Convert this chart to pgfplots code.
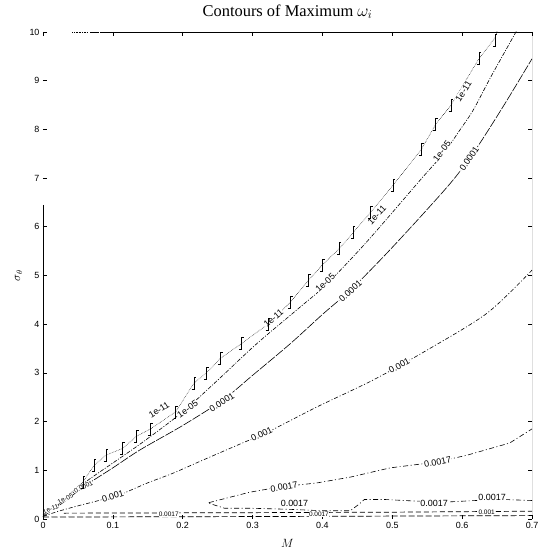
\documentclass[border=0pt]{standalone}
\usepackage{fontspec}
\setmainfont{Liberation Sans}
\newfontfamily\ttlfont{Liberation Serif}
\usepackage{pgfplots}
\pgfplotsset{compat=1.18}
\pgfdeclareplotmark{hook}{%
  \pgfpathmoveto{\pgfqpoint{-2.2bp}{-6bp}}%
  \pgfpathlineto{\pgfqpoint{0bp}{-6bp}}%
  \pgfpathlineto{\pgfqpoint{0bp}{6bp}}%
  \pgfpathlineto{\pgfqpoint{2.2bp}{6bp}}%
  \pgfusepathqstroke}
\newcommand\clab{\fontsize{9}{10}\selectfont}
\tikzset{clabel/.style={font=\clab, fill=white, inner sep=0.4pt},
         slabel/.style={font=\fontsize{6.5}{7}\selectfont, fill=white, inner sep=0.2pt}}
\begin{document}
\begin{tikzpicture}[x=1bp,y=1bp]
\useasboundingbox (-43,-34) rectangle (495,519);
\begin{axis}[
  at={(0,0)}, anchor=south west, scale only axis, width=489bp, height=487bp,
  xmin=0, xmax=0.7, ymin=0, ymax=10,
  xtick={0,0.1,0.2,0.3,0.4,0.5,0.6,0.7}, ytick={0,1,...,10},
  tick align=inside, major tick length=4bp,
  tick style={black, line width=0.6bp},
  axis line style={draw=none},
  ticklabel style={font=\fontsize{9}{10}\selectfont},
  /pgf/number format/assume math mode=true,
  title={\ttlfont\fontsize{16.5}{18}\selectfont Contours of Maximum $\omega_i$},
  title style={at={(axis description cs:0.5,1.029)}, anchor=center},
  xlabel={$M$},
  xlabel style={at={(axis description cs:0.5,-0.051)}, anchor=center, font=\fontsize{12}{13}\selectfont},
  ylabel={$\sigma_\theta$},
  ylabel style={at={(axis description cs:-0.05,0.5)}, anchor=center, font=\fontsize{12}{13}\selectfont},
  every axis plot/.append style={black, line width=0.6bp},
]
% 1e-11 (jagged)
\addplot[densely dotted, line width=0.45bp] coordinates {
 (0,0.08) (0.03,0.4) (0.057,0.76) (0.073,1.1) (0.09,1.31) (0.114,1.45) (0.134,1.7)
 (0.154,1.85) (0.19,2.2) (0.216,2.79) (0.234,3.0) (0.254,3.3) (0.284,3.6) (0.322,4.0)
 (0.354,4.45) (0.38,4.9) (0.4,5.22) (0.424,5.55) (0.444,5.88) (0.469,6.3) (0.501,6.85)
 (0.542,7.6) (0.562,8.1) (0.584,8.5) (0.624,9.45) (0.647,9.88) (0.652,10.1)};
\addplot[only marks, mark=hook, mark options={line width=0.55bp}] coordinates {
 (0.057,0.76) (0.073,1.1) (0.09,1.31) (0.114,1.45) (0.134,1.7)
 (0.154,1.85) (0.19,2.2) (0.216,2.79) (0.234,3.0) (0.254,3.3) (0.284,3.6) (0.322,4.0)
 (0.354,4.45) (0.38,4.9) (0.4,5.22) (0.424,5.55) (0.444,5.88) (0.469,6.3) (0.501,6.85)
 (0.542,7.6) (0.562,8.1) (0.584,8.5) (0.624,9.45) (0.647,9.82)};
% 1e-05
\addplot[smooth, dash pattern=on 4bp off 1.5bp on 1bp off 1.5bp] coordinates {
 (0,0.08) (0.03,0.38) (0.06,0.75) (0.1,1.15) (0.143,1.58) (0.2,2.2) (0.25,2.85)
 (0.306,3.6) (0.368,4.35) (0.406,4.82) (0.464,5.7) (0.54,6.96) (0.573,7.5)
 (0.595,7.95) (0.616,8.4) (0.64,9.05) (0.668,9.77) (0.679,10.05)};
% 0.0001
\addplot[smooth, dash pattern=on 9bp off 1.5bp] coordinates {
 (0,0.05) (0.03,0.35) (0.06,0.68) (0.1,1.05) (0.139,1.42) (0.2,1.92) (0.258,2.45)
 (0.3,2.95) (0.354,3.6) (0.40,4.2) (0.44,4.7) (0.487,5.38) (0.54,6.2) (0.587,6.96)
 (0.62,7.6) (0.66,8.5) (0.7,9.45)};
% 0.001
\addplot[smooth, dash pattern=on 4bp off 2bp on 1bp off 2bp] coordinates {
 (0,0.05) (0.02,0.15) (0.05,0.27) (0.08,0.38) (0.11,0.5) (0.13,0.62) (0.153,0.76)
 (0.186,0.94) (0.229,1.21) (0.292,1.6) (0.313,1.72) (0.392,2.3) (0.472,2.85)
 (0.55,3.47) (0.636,4.23) (0.7,5.11)};
% 0.0017 (U-shaped)
\addplot[dash pattern=on 5bp off 2.5bp on 1bp off 2.5bp] coordinates {
 (0.7,0.38) (0.66,0.4) (0.62,0.38) (0.58,0.35) (0.53,0.37) (0.49,0.4) (0.46,0.4)
 (0.452,0.3) (0.44,0.17) (0.4,0.17) (0.35,0.2) (0.3,0.22) (0.26,0.22) (0.236,0.33)
 (0.263,0.43) (0.296,0.55) (0.34,0.66) (0.392,0.74) (0.44,0.86) (0.497,1.05)
 (0.564,1.17) (0.607,1.31) (0.668,1.56) (0.7,1.85)};
% bottom contours
\addplot[dash pattern=on 5bp off 3bp, line width=0.7bp] coordinates {(0.03,0.12) (0.3,0.13) (0.5,0.14) (0.7,0.16)};
\addplot[dash pattern=on 6bp off 2.5bp, line width=0.7bp] coordinates {(0,0.04) (0.3,0.05) (0.7,0.07)};
% labels
\node[clabel, rotate=58] at (axis cs:0.602,8.78) {1e-11};
\node[clabel, rotate=53] at (axis cs:0.571,7.55) {1e-05};
\node[clabel, rotate=56] at (axis cs:0.61,7.4) {0.0001};
\node[clabel, rotate=47] at (axis cs:0.478,6.24) {1e-11};
\node[clabel, rotate=43] at (axis cs:0.404,4.85) {1e-05};
\node[clabel, rotate=42] at (axis cs:0.44,4.68) {0.0001};
\node[clabel, rotate=40] at (axis cs:0.33,4.12) {1e-11};
\node[clabel, rotate=33] at (axis cs:0.166,2.24) {1e-11};
\node[clabel, rotate=35] at (axis cs:0.207,2.26) {1e-05};
\node[clabel, rotate=32] at (axis cs:0.256,2.4) {0.0001};
\node[clabel, rotate=26] at (axis cs:0.313,1.74) {0.001};
\node[clabel, rotate=29] at (axis cs:0.51,3.15) {0.001};
\node[clabel, rotate=17] at (axis cs:0.1,0.47) {0.001};
\node[slabel, rotate=20] at (axis cs:0.011,0.2) {1e-11};
\node[slabel, rotate=25] at (axis cs:0.032,0.42) {1e-05};
\node[slabel, rotate=25] at (axis cs:0.058,0.66) {0.0001};
\node[clabel, rotate=10] at (axis cs:0.345,0.66) {0.0017};
\node[clabel, rotate=12] at (axis cs:0.565,1.17) {0.0017};
\node[clabel] at (axis cs:0.36,0.33) {0.0017};
\node[clabel] at (axis cs:0.56,0.33) {0.0017};
\node[clabel] at (axis cs:0.643,0.45) {0.0017};
\node[slabel] at (axis cs:0.18,0.09) {0.0017};
\node[slabel] at (axis cs:0.395,0.09) {0.0017};
\node[slabel] at (axis cs:0.635,0.14) {0.001};
% axis spines (partly missing, as in the source)
\draw[line width=0.8bp] (axis cs:0,6.45) -- (axis cs:0,0) -- (axis cs:0.7,0) -- (axis cs:0.7,10) -- (axis cs:0.082,10);
\draw[line width=0.6bp, densely dotted] (axis cs:0.042,10) -- (axis cs:0.063,10);
\draw[line width=0.8bp] (axis cs:0.067,10) -- (axis cs:0.08,10);
\end{axis}
\end{tikzpicture}
\end{document}
